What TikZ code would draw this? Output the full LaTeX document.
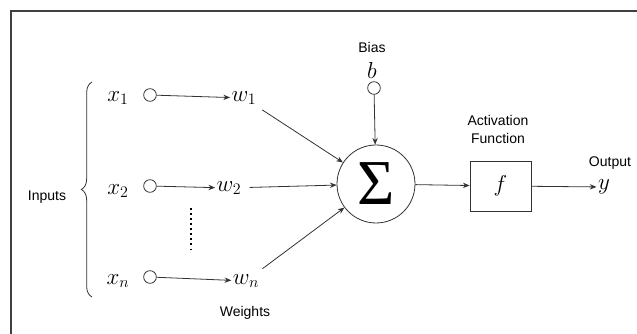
\documentclass[tikz,border=0pt]{standalone}
\usepackage{fontspec}
\setmainfont{Liberation Sans}
\newfontfamily\sumfont{Liberation Serif}
\usepackage{tikz}
\usetikzlibrary{arrows.meta,decorations.pathreplacing}

\tikzset{
  port/.style={draw=black!80, line width=0.6pt, circle, minimum size=9.5pt, inner sep=0pt},
  var/.style={inner sep=1pt, font=\LARGE},
  lbl/.style={inner sep=0pt, font=\fontsize{10.5}{13.5}\selectfont, align=center},
  wire/.style={-{Stealth[length=5pt,width=4pt]}, line width=0.6pt, draw=black!80},
}

\begin{document}
\begin{tikzpicture}[x=7.5pt, y=-7.5pt]
\useasboundingbox (0,0) rectangle (63.7,33.4);
\draw[line width=1.1pt, black!75] (1.1,33.4) -- (1.1,1.1) -- (63.7,1.1);

% inputs
\node[lbl] (inputs) at (4.7,19.7) {Inputs};
\draw[line width=0.6pt, black!80, decorate, decoration={brace, amplitude=8pt}] (9.2,29.7) -- (9.2,8.2);
\node[var] (x1) at (11.8,9.8) {$x_1$};
\node[var] (x2) at (11.8,19.1) {$x_2$};
\node[var] (xn) at (11.8,28.1) {$x_n$};
\node[port] (in1) at (15.0,9.5) {};
\node[port] (in2) at (15.0,18.6) {};
\node[port] (inn) at (15.0,27.7) {};

% weights
\node[var] (w1) at (24.4,9.8) {$w_1$};
\node[var] (w2) at (22.9,18.8) {$w_2$};
\node[var] (wn) at (24.6,28.1) {$w_n$};
\node[lbl] (weights) at (24.5,31.3) {Weights};
\draw[wire] (in1) -- (w1);
\draw[wire] (in2) -- (w2);
\draw[wire] (inn) -- (wn);
\draw[line width=0.9pt, dash pattern=on 1.2pt off 2.6pt] (19.1,20.8) -- (19.1,25.2);

% summation and bias
\node[draw=black!80, line width=0.6pt, circle, minimum size=58.5pt, inner sep=0pt,
      font=\sumfont\fontsize{48}{48}\selectfont] (sum) at (37.6,18.4) {Σ};
\node[lbl] (bias) at (37.2,4.8) {Bias};
\node[var] (b) at (37.2,7.1) {$b$};
\node[port] (bin) at (37.4,8.8) {};
\draw[wire, shorten <=5pt] (w1) -- (sum);
\draw[wire, shorten <=5pt] (w2) -- (sum);
\draw[wire, shorten <=5pt] (wn) -- (sum);
\draw[wire] (bin) -- (sum);

% activation and output
\node[draw=black!80, line width=0.6pt, minimum width=45.75pt, minimum height=37.5pt, font=\LARGE] (act) at (50.05,18.6) {$f$};
\node[lbl] (actlbl) at (49.8,13.0) {Activation\\Function};
\node[var] (y) at (60.4,18.7) {$y$};
\node[lbl] (output) at (61.0,16.3) {Output};
\draw[wire] (sum) -- (act);
\draw[wire] (act) -- (y);
\end{tikzpicture}
\end{document}
